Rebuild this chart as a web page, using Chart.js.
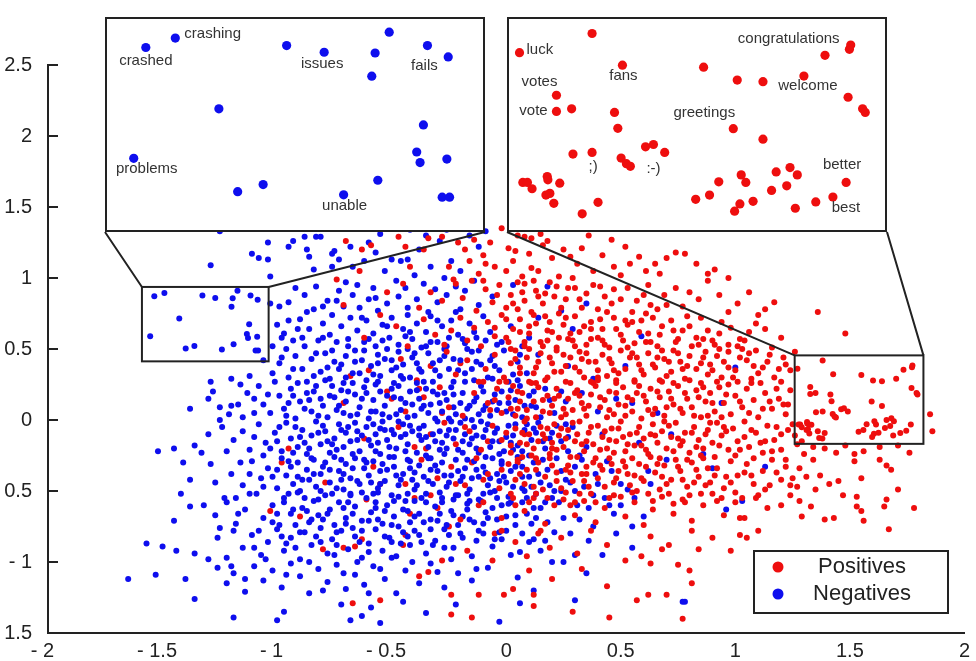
<!DOCTYPE html>
<html>
<head>
<meta charset="utf-8">
<script src="https://cdn.jsdelivr.net/npm/chart.js@4.4.1/dist/chart.umd.min.js"></script>
<style>
  body { margin: 0; background: #fff; }
  #wrap { position: relative; width: 976px; height: 661px; }
  #wrap canvas { position: absolute; }
  #main { left: 0; top: 0; }
  #insetNeg { left: 105px; top: 17px; background: #fff; }
  #insetPos { left: 507px; top: 17px; background: #fff; }
</style>
</head>
<body>
<div id="wrap">
  <canvas id="main" width="976" height="661"></canvas>
  <canvas id="insetNeg" width="380" height="215"></canvas>
  <canvas id="insetPos" width="380" height="215"></canvas>
</div>
<script>
// Sentiment word embedding scatter (positives vs negatives) with two zoom insets

// tick labels exactly as printed on the figure
const xTickLabels = ['- 2', '- 1.5', '- 1', '- 0.5', '0', '0.5', '1', '1.5', '2'];
const yTickLabels = ['1.5', '- 1', '0.5', '0', '0.5', '1', '1.5', '2', '2.5']; // bottom -> top

// zoomed regions (data units)
const zoomNeg = { xMin: -1.59, xMax: -1.037, yMin: 0.413, yMax: 0.937 };
const zoomPos = { xMin: 1.259, xMax: 1.821, yMin: -0.168, yMax: 0.455 };

// ---- Negatives (blue) ----
const negTop = [[-1.25,1.33],[-1.29,1.09],[-1.11,1.17],[-1.08,1.14],[-1.04,1.13],[-1.04,1.25],[-1.03,1.01],[-0.95,1.22],[-0.93,1.26],[-0.88,1.29],[-0.83,1.29],[-0.81,1.29],[-0.87,1.2],[-0.86,1.15],[-0.84,1.06],[-0.76,1.17],[-0.75,1.19],[-0.73,1.13],[-0.76,1.08],[-0.67,1.08],[-0.62,1.12],[-0.6,1.25],[-0.55,1.31],[-0.53,1.05],[-0.5,1.13],[-0.46,1.12],[-0.43,1.13],[-0.42,1.34],[-0.4,1.02],[-0.38,1.2],[-0.33,1.08],[-0.29,1.26],[-0.27,1.0],[-0.24,1.12],[-0.2,1.05],[-0.16,1.3],[-0.12,1.22],[-0.09,1.33],[-0.68,1.22],[-0.57,1.18],[-0.35,1.3],[-0.26,1.34]];
const negUpper = [[-1.03,0.82],[-0.99,0.8],[-0.95,0.83],[-0.92,0.93],[-0.88,0.88],[-0.84,0.78],[-0.83,0.94],[-0.78,0.84],[-0.73,0.91],[-0.71,0.8],[-0.7,0.97],[-0.67,0.88],[-0.65,0.95],[-0.64,0.79],[-0.6,0.85],[-0.58,0.93],[-0.56,0.77],[-0.52,0.82],[-0.48,0.98],[-0.47,0.87],[-0.44,0.93],[-0.43,0.79],[-0.39,0.85],[-0.36,0.96],[-0.34,0.76],[-0.31,0.92],[-0.3,0.83],[-0.26,0.88],[-0.22,0.94],[-0.2,0.78],[-0.18,0.91],[-0.14,0.98],[-0.12,0.81],[-0.06,0.87],[0.03,0.95]];
const negMidHigh = [[-1.0,0.67],[-0.97,0.61],[-0.93,0.56],[-0.9,0.71],[-0.86,0.64],[-0.82,0.56],[-0.8,0.68],[-0.77,0.6],[-0.76,0.74],[-0.72,0.66],[-0.69,0.57],[-0.68,0.72],[-0.65,0.63],[-0.62,0.55],[-0.61,0.7],[-0.58,0.61],[-0.57,0.52],[-0.54,0.67],[-0.51,0.58],[-0.5,0.72],[-0.47,0.53],[-0.45,0.64],[-0.43,0.74],[-0.41,0.57],[-0.39,0.68],[-0.37,0.51],[-0.35,0.62],[-0.33,0.73],[-0.3,0.55],[-0.28,0.66],[-0.26,0.52],[-0.24,0.7],[-0.21,0.6],[-0.18,0.54],[-0.16,0.68],[-0.13,0.58],[-0.1,0.73],[-0.07,0.62],[-0.04,0.53],[0.02,0.66],[0.1,0.58]];
const negMid = [[-1.29,0.27],[-1.2,0.29],[-1.12,0.31],[-1.06,0.42],[-1.02,0.33],[-0.99,0.4],[-0.96,0.5],[-0.95,0.3],[-0.92,0.45],[-0.89,0.36],[-0.87,0.27],[-0.85,0.43],[-0.81,0.34],[-0.79,0.47],[-0.77,0.29],[-0.75,0.41],[-0.73,0.36],[-0.71,0.26],[-0.7,0.45],[-0.67,0.33],[-0.66,0.49],[-0.63,0.42],[-0.61,0.28],[-0.59,0.38],[-0.56,0.46],[-0.55,0.31],[-0.53,0.43],[-0.5,0.35],[-0.49,0.26],[-0.47,0.48],[-0.45,0.39],[-0.42,0.3],[-0.41,0.44],[-0.38,0.36],[-0.36,0.27],[-0.34,0.47],[-0.32,0.4],[-0.29,0.31],[-0.27,0.45],[-0.25,0.36],[-0.23,0.27],[-0.2,0.42],[-0.18,0.33],[-0.15,0.48],[-0.14,0.28],[-0.11,0.39],[-0.08,0.3],[-0.06,0.45],[-0.03,0.35],[0.01,0.27],[0.05,0.41],[0.09,0.33],[0.14,0.46],[0.27,0.38],[0.38,0.29]];
const negCenter = [[-1.38,0.08],[-1.3,0.15],[-1.25,0.09],[-1.21,0.04],[-1.17,0.11],[-1.15,0.02],[-1.25,0.0],[-1.13,0.19],[-1.08,0.24],[-1.06,0.11],[-1.03,0.05],[-0.99,0.17],[-0.97,0.08],[-0.94,0.22],[-0.92,0.01],[-0.9,0.13],[-0.87,0.19],[-0.85,0.06],[-0.83,0.24],[-0.8,0.1],[-0.78,0.02],[-0.77,0.17],[-0.74,0.07],[-0.72,0.21],[-0.7,0.13],[-0.68,0.03],[-0.66,0.18],[-0.64,0.09],[-0.62,0.23],[-0.6,0.01],[-0.58,0.14],[-0.57,0.06],[-0.55,0.2],[-0.53,0.1],[-0.51,0.02],[-0.49,0.16],[-0.47,0.24],[-0.46,0.07],[-0.44,0.12],[-0.42,0.2],[-0.4,0.03],[-0.38,0.15],[-0.37,0.08],[-0.35,0.22],[-0.33,0.11],[-0.31,0.01],[-0.3,0.18],[-0.28,0.06],[-0.26,0.14],[-0.24,0.23],[-0.22,0.04],[-0.2,0.12],[-0.19,0.19],[-0.17,0.08],[-0.15,0.0],[-0.13,0.16],[-0.11,0.24],[-0.09,0.1],[-0.07,0.03],[-0.05,0.18],[-0.03,0.12],[0.0,0.06],[0.02,0.21],[0.04,0.14],[0.07,0.02],[0.1,0.17],[0.13,0.09],[0.17,0.22],[0.21,0.05],[0.26,0.13],[0.33,0.19],[0.4,0.06],[0.55,0.12]];
const negMidLow = [[-1.52,-0.22],[-1.45,-0.2],[-1.36,-0.18],[-1.33,-0.23],[-1.24,-0.05],[-1.19,-0.14],[-1.12,-0.21],[-1.08,-0.03],[-1.05,-0.16],[-1.01,-0.09],[-0.98,-0.22],[-0.96,-0.02],[-0.94,-0.13],[-0.91,-0.19],[-0.89,-0.07],[-0.87,-0.24],[-0.85,-0.11],[-0.83,-0.01],[-0.81,-0.17],[-0.79,-0.08],[-0.77,-0.23],[-0.75,-0.13],[-0.73,-0.03],[-0.71,-0.19],[-0.7,-0.09],[-0.68,-0.15],[-0.66,-0.02],[-0.64,-0.22],[-0.63,-0.11],[-0.61,-0.05],[-0.59,-0.18],[-0.57,-0.1],[-0.55,-0.24],[-0.54,-0.01],[-0.52,-0.14],[-0.5,-0.07],[-0.48,-0.2],[-0.46,-0.12],[-0.45,-0.03],[-0.43,-0.17],[-0.41,-0.08],[-0.39,-0.23],[-0.37,-0.14],[-0.36,-0.04],[-0.34,-0.19],[-0.32,-0.1],[-0.3,-0.01],[-0.28,-0.16],[-0.27,-0.24],[-0.25,-0.07],[-0.23,-0.13],[-0.21,-0.21],[-0.2,-0.02],[-0.18,-0.1],[-0.16,-0.17],[-0.14,-0.05],[-0.12,-0.23],[-0.1,-0.12],[-0.08,-0.03],[-0.07,-0.19],[-0.05,-0.09],[-0.03,-0.15],[-0.01,-0.22],[0.01,-0.04],[0.03,-0.11],[0.05,-0.18],[0.08,-0.07],[0.11,-0.14],[0.14,-0.02],[0.17,-0.2],[0.2,-0.09],[0.24,-0.15],[0.29,-0.05],[0.35,-0.19],[0.42,-0.1],[0.58,-0.16]];
const negLow = [[-1.38,-0.42],[-1.29,-0.31],[-1.23,-0.55],[-1.2,-0.38],[-1.15,-0.46],[-1.11,-0.29],[-1.07,-0.41],[-1.04,-0.34],[-1.0,-0.48],[-0.98,-0.27],[-0.96,-0.39],[-0.93,-0.45],[-0.91,-0.3],[-0.89,-0.42],[-0.87,-0.35],[-0.85,-0.27],[-0.83,-0.47],[-0.81,-0.38],[-0.79,-0.3],[-0.77,-0.44],[-0.75,-0.26],[-0.73,-0.36],[-0.71,-0.49],[-0.7,-0.31],[-0.68,-0.41],[-0.66,-0.27],[-0.64,-0.45],[-0.62,-0.34],[-0.6,-0.39],[-0.58,-0.29],[-0.56,-0.48],[-0.55,-0.36],[-0.53,-0.43],[-0.51,-0.26],[-0.49,-0.33],[-0.47,-0.46],[-0.45,-0.38],[-0.43,-0.28],[-0.41,-0.42],[-0.4,-0.49],[-0.38,-0.32],[-0.36,-0.4],[-0.34,-0.27],[-0.32,-0.45],[-0.3,-0.36],[-0.28,-0.3],[-0.26,-0.47],[-0.24,-0.39],[-0.22,-0.28],[-0.2,-0.43],[-0.18,-0.34],[-0.16,-0.49],[-0.14,-0.29],[-0.12,-0.4],[-0.1,-0.33],[-0.08,-0.46],[-0.06,-0.27],[-0.04,-0.38],[-0.02,-0.31],[0.0,-0.44],[0.02,-0.36],[0.05,-0.26],[0.07,-0.48],[0.1,-0.4],[0.12,-0.3],[0.15,-0.44],[0.18,-0.35],[0.22,-0.27],[0.26,-0.42],[0.3,-0.33],[0.34,-0.47],[0.39,-0.38],[0.44,-0.29],[0.5,-0.45],[0.62,-0.36]];
const negLower = [[-1.45,-0.71],[-1.38,-0.61],[-1.27,-0.67],[-1.22,-0.58],[-1.18,-0.73],[-1.14,-0.63],[-1.09,-0.52],[-1.06,-0.69],[-1.02,-0.6],[-0.99,-0.74],[-0.97,-0.55],[-0.94,-0.66],[-0.91,-0.51],[-0.89,-0.62],[-0.86,-0.72],[-0.84,-0.57],[-0.82,-0.67],[-0.79,-0.53],[-0.77,-0.63],[-0.75,-0.74],[-0.73,-0.58],[-0.7,-0.69],[-0.68,-0.52],[-0.66,-0.61],[-0.63,-0.71],[-0.61,-0.55],[-0.59,-0.65],[-0.56,-0.51],[-0.54,-0.73],[-0.52,-0.6],[-0.49,-0.68],[-0.47,-0.54],[-0.45,-0.63],[-0.42,-0.72],[-0.4,-0.57],[-0.38,-0.66],[-0.35,-0.52],[-0.33,-0.7],[-0.31,-0.61],[-0.28,-0.55],[-0.26,-0.74],[-0.24,-0.64],[-0.21,-0.53],[-0.19,-0.68],[-0.17,-0.59],[-0.14,-0.72],[-0.12,-0.56],[-0.09,-0.65],[-0.07,-0.51],[-0.04,-0.7],[-0.02,-0.6],[0.01,-0.54],[0.04,-0.67],[0.07,-0.58],[0.11,-0.73],[0.15,-0.62],[0.2,-0.55],[0.25,-0.69],[0.31,-0.6],[0.38,-0.53],[0.47,-0.66]];
const negBottom = [[-1.57,-0.87],[-1.5,-0.89],[-1.36,-0.94],[-1.26,-0.83],[-1.22,-0.97],[-1.19,-0.78],[-1.15,-0.9],[-1.11,-0.81],[-1.07,-0.95],[-1.04,-0.86],[-1.0,-0.77],[-0.97,-0.92],[-0.94,-0.83],[-0.9,-0.98],[-0.88,-0.79],[-0.85,-0.88],[-0.81,-0.76],[-0.78,-0.94],[-0.76,-0.84],[-0.72,-0.78],[-0.69,-0.91],[-0.66,-0.82],[-0.63,-0.97],[-0.6,-0.87],[-0.57,-0.77],[-0.54,-0.92],[-0.51,-0.83],[-0.48,-0.96],[-0.45,-0.79],[-0.42,-0.88],[-0.38,-0.81],[-0.35,-0.94],[-0.31,-0.85],[-0.27,-0.77],[-0.23,-0.9],[-0.19,-0.83],[-0.15,-0.96],[-0.1,-0.8],[-0.06,-0.89],[0.0,-0.78],[0.06,-0.93],[0.12,-0.84],[0.21,-0.79],[0.3,-0.95]];
const negBase = [[-1.65,-1.12],[-1.53,-1.09],[-1.36,-1.26],[-1.26,-1.04],[-1.22,-1.15],[-1.19,-1.08],[-1.14,-1.21],[-1.1,-1.03],[-1.06,-1.13],[-1.02,-1.06],[-0.98,-1.18],[-0.94,-1.01],[-0.9,-1.1],[-0.86,-1.22],[-0.82,-1.05],[-0.78,-1.14],[-0.74,-1.02],[-0.7,-1.19],[-0.66,-1.09],[-0.62,-1.16],[-0.58,-1.03],[-0.53,-1.12],[-0.48,-1.22],[-0.44,-1.06],[-0.38,-1.15],[-0.33,-1.01],[-0.27,-1.18],[-0.21,-1.08],[-0.15,-1.13],[-0.08,-1.04],[0.05,-1.11],[0.12,-1.2],[-1.19,-1.39],[-1.0,-1.41],[-0.97,-1.35],[-0.72,-1.3],[-0.68,-1.41],[-0.63,-1.38],[-0.59,-1.32],[-0.55,-1.43],[-0.45,-1.28],[-0.35,-1.36],[-0.22,-1.3],[-0.03,-1.42],[0.06,-1.29],[0.3,-1.27],[0.78,-1.28]];
const negMixed = [[0.03,-0.21],[0.07,-0.33],[0.1,-0.25],[0.13,-0.52],[0.16,-0.15],[0.19,-0.46],[0.23,-0.58],[0.27,-0.22],[0.3,-0.5],[0.33,-0.28],[0.36,-0.62],[0.4,-0.45],[0.43,-0.55],[0.46,-0.36],[0.5,-0.6],[0.53,-0.49],[0.56,-0.55],[0.6,-0.68],[0.38,-0.75],[0.28,-0.8],[0.18,-0.72],[0.1,-0.86],[0.02,-0.95],[0.08,-0.5],[0.12,-0.62],[0.24,-0.36],[0.02,-0.58],[-0.02,-0.84],[0.15,-0.92],[0.32,-0.7],[0.48,-0.8],[0.42,-0.95],[0.35,-1.08],[0.55,-0.9],[0.2,-1.0]];
// further passes over the dense blue core and its left flank
const negDense = [[-0.88,0.52],[-0.84,0.31],[-0.8,0.58],[-0.76,0.49],[-0.72,0.39],[-0.69,0.52],[-0.64,0.33],[-0.6,0.57],[-0.56,0.4],[-0.52,0.5],[-0.48,0.37],[-0.44,0.59],[-0.4,0.47],[-0.37,0.34],[-0.33,0.55],[-0.29,0.42],[-0.25,0.58],[-0.21,0.35],[-0.17,0.5],[-0.13,0.41],[-0.09,0.56],[-0.05,0.38],[-0.01,0.49],[0.03,0.32],[0.07,0.52],
  [-1.1,0.15],[-1.01,0.27],[-0.95,0.12],[-0.91,0.26],[-0.86,0.14],[-0.82,0.03],[-0.79,0.28],[-0.75,0.16],[-0.71,0.05],[-0.67,0.26],[-0.63,0.15],[-0.59,0.06],[-0.56,0.27],[-0.52,0.17],[-0.48,0.04],[-0.45,0.29],[-0.41,0.11],[-0.39,0.26],[-0.34,0.05],[-0.32,0.27],[-0.29,0.12],[-0.25,0.01],[-0.23,0.18],[-0.18,0.27],[-0.16,0.1],[-0.12,0.04],[-0.1,0.2],[-0.06,0.29],[-0.04,0.07],[0.01,0.12],[0.05,0.28],[0.08,0.1],[0.12,0.2],[0.19,0.14],
  [-1.15,-0.08],[-1.06,-0.25],[-1.0,-0.15],[-0.95,-0.29],[-0.92,-0.05],[-0.88,-0.16],[-0.84,-0.28],[-0.8,-0.04],[-0.76,-0.17],[-0.72,-0.28],[-0.69,-0.05],[-0.65,-0.14],[-0.62,-0.28],[-0.58,-0.03],[-0.56,-0.16],[-0.53,-0.07],[-0.49,-0.26],[-0.47,-0.01],[-0.44,-0.1],[-0.42,-0.29],[-0.38,-0.06],[-0.35,-0.12],[-0.33,-0.27],[-0.29,-0.08],[-0.26,-0.2],[-0.24,-0.01],[-0.19,-0.15],[-0.17,-0.28],[-0.13,-0.11],[-0.11,-0.01],[-0.09,-0.26],[-0.04,-0.06],[-0.02,-0.29],[0.02,-0.16],[0.06,-0.27],[0.09,-0.03],[0.13,-0.09],[0.16,-0.28],[0.22,-0.04],[0.27,-0.12],[0.32,-0.25],
  [-1.12,-0.52],[-1.02,-0.4],[-0.97,-0.58],[-0.94,-0.33],[-0.9,-0.5],[-0.86,-0.42],[-0.82,-0.56],[-0.8,-0.33],[-0.76,-0.52],[-0.72,-0.42],[-0.69,-0.58],[-0.67,-0.34],[-0.63,-0.51],[-0.59,-0.44],[-0.57,-0.58],[-0.54,-0.31],[-0.5,-0.53],[-0.48,-0.39],[-0.44,-0.57],[-0.42,-0.34],[-0.39,-0.46],[-0.35,-0.58],[-0.33,-0.35],[-0.29,-0.51],[-0.27,-0.39],[-0.23,-0.56],[-0.21,-0.36],[-0.17,-0.52],[-0.15,-0.41],[-0.11,-0.57],[-0.09,-0.37],[-0.05,-0.5],[-0.03,-0.43],[0.01,-0.59],[0.04,-0.33],[0.09,-0.55],[0.14,-0.38],[0.21,-0.5],[0.28,-0.44],
  [-1.08,-0.78],[-1.0,-0.66],[-0.96,-0.87],[-0.92,-0.74],[-0.87,-0.64],[-0.83,-0.82],[-0.8,-0.7],[-0.74,-0.88],[-0.71,-0.62],[-0.67,-0.76],[-0.64,-0.86],[-0.6,-0.71],[-0.57,-0.62],[-0.53,-0.82],[-0.5,-0.74],[-0.46,-0.87],[-0.43,-0.64],[-0.4,-0.78],[-0.36,-0.72],[-0.32,-0.88],[-0.29,-0.66],[-0.25,-0.81],[-0.21,-0.74],[-0.17,-0.63],[-0.13,-0.85],[-0.1,-0.73],[-0.06,-0.62],[-0.03,-0.79],[0.04,-0.74],[0.09,-0.66],[0.17,-0.85]];
const negDense2 = [[-0.98,0.44],[-0.93,0.36],[-0.89,0.58],[-0.83,0.47],[-0.78,0.37],[-0.74,0.55],[-0.7,0.3],[-0.66,0.41],[-0.62,0.49],[-0.58,0.32],[-0.54,0.56],[-0.5,0.42],[-0.46,0.31],[-0.43,0.5],[-0.39,0.4],[-0.35,0.52],[-0.31,0.35],[-0.27,0.5],[-0.23,0.43],[-0.19,0.57],[-0.15,0.36],[-0.12,0.49],[-0.07,0.42],[-0.02,0.55],[0.06,0.46],
  [-1.04,0.18],[-0.96,0.03],[-0.93,0.17],[-0.88,0.08],[-0.84,0.2],[-0.81,0.15],[-0.76,0.24],[-0.73,0.1],[-0.69,0.2],[-0.65,0.04],[-0.61,0.19],[-0.57,0.25],[-0.54,0.04],[-0.5,0.22],[-0.46,0.15],[-0.43,0.02],[-0.39,0.21],[-0.36,0.1],[-0.32,0.2],[-0.27,0.19],[-0.23,0.09],[-0.18,0.01],[-0.14,0.13],[-0.1,0.07],[-0.06,0.13],[-0.02,0.2],[0.03,0.04],[0.06,0.24],[0.11,0.1],[0.15,0.02],[0.24,0.2],
  [-1.1,-0.12],[-1.03,-0.2],[-0.99,-0.05],[-0.93,-0.23],[-0.9,-0.12],[-0.86,-0.2],[-0.82,-0.09],[-0.78,-0.15],[-0.74,-0.21],[-0.72,-0.07],[-0.67,-0.24],[-0.65,-0.08],[-0.6,-0.14],[-0.57,-0.22],[-0.55,-0.06],[-0.51,-0.19],[-0.49,-0.1],[-0.44,-0.22],[-0.42,-0.04],[-0.38,-0.11],[-0.35,-0.25],[-0.31,-0.15],[-0.29,-0.21],[-0.26,-0.11],[-0.22,-0.07],[-0.19,-0.23],[-0.15,-0.13],[-0.13,-0.2],[-0.09,-0.07],[-0.06,-0.15],[-0.03,-0.24],[0.0,-0.12],[0.04,-0.03],[0.07,-0.22],[0.12,-0.06],[0.19,-0.13],[0.26,-0.03],
  [-1.06,-0.47],[-1.0,-0.35],[-0.95,-0.52],[-0.91,-0.4],[-0.88,-0.55],[-0.84,-0.38],[-0.81,-0.5],[-0.77,-0.35],[-0.74,-0.48],[-0.71,-0.38],[-0.68,-0.53],[-0.65,-0.43],[-0.61,-0.3],[-0.58,-0.52],[-0.55,-0.45],[-0.52,-0.35],[-0.49,-0.57],[-0.46,-0.42],[-0.43,-0.52],[-0.4,-0.37],[-0.37,-0.55],[-0.34,-0.43],[-0.31,-0.32],[-0.28,-0.58],[-0.25,-0.44],[-0.22,-0.53],[-0.19,-0.4],[-0.16,-0.57],[-0.13,-0.35],[-0.1,-0.52],[-0.07,-0.41],[-0.04,-0.55],[-0.01,-0.4],[0.03,-0.47],[0.07,-0.4],[0.11,-0.47],[0.17,-0.58],[0.24,-0.5],
  [-1.02,-0.72],[-0.98,-0.82],[-0.93,-0.63],[-0.9,-0.79],[-0.85,-0.7],[-0.81,-0.86],[-0.78,-0.66],[-0.74,-0.79],[-0.7,-0.73],[-0.67,-0.66],[-0.63,-0.78],[-0.6,-0.93],[-0.56,-0.7],[-0.53,-0.64],[-0.5,-0.86],[-0.47,-0.75],[-0.43,-0.82],[-0.4,-0.68],[-0.37,-0.86],[-0.33,-0.77],[-0.3,-0.71],[-0.27,-0.9],[-0.23,-0.67],[-0.2,-0.8],[-0.16,-0.7],[-0.12,-0.78],[-0.08,-0.69],[-0.05,-0.84],[0.0,-0.68],[0.07,-0.8],[0.13,-0.69]];
const negLeft2 = [[-1.28,0.2],[-1.2,0.1],[-1.16,0.25],[-1.1,0.05],[-1.3,-0.1],[-1.22,-0.22],[-1.16,-0.3],[-1.27,-0.44],[-1.18,-0.55],[-1.12,-0.38],[-1.32,-0.6],[-1.25,-0.76],[-1.17,-0.66],[-1.1,-0.9],[-1.3,-0.98],[-1.2,-1.03],[-1.14,-1.12],[-1.05,-0.98],[-0.96,-1.09],[-0.92,-0.9],[-0.86,-1.0],[-0.8,-1.2],[-0.75,-0.95],[-0.71,-1.08],[-0.65,-1.0],[-0.6,-1.22],[-0.55,-1.05],[-0.5,-0.97],[-0.41,-1.0],[-0.3,-1.07],[-0.24,-0.98],[-0.13,-1.05],[-1.41,-0.3],[-1.42,-0.52],[-1.44,-0.92],[-1.4,-1.12],[-1.02,0.52],[-0.98,0.58],[-0.91,0.64],[-0.95,0.7],[-0.87,0.76],[-0.8,0.8],[-0.74,0.84],[-0.63,0.72],[-0.57,0.86],[-0.52,0.66],[-0.42,0.62],[-0.3,0.7],[-0.22,0.76],[-0.14,0.62]];
const negStray = [[0.18,0.94],[0.35,0.82],[0.24,0.77],[0.29,0.64],[0.14,0.72],[0.59,0.59],[1.0,0.37],[0.94,0.12],[0.52,0.38],[0.86,-0.24],[0.9,-0.34],[1.13,-0.33],[1.03,-0.57],[0.96,-0.63],[0.77,-1.28],[0.66,0.05],[0.72,-0.1],[0.48,0.15],[0.63,-0.45],[0.7,-0.28],[0.45,-0.6],[0.55,-0.75],[0.36,-0.85],[0.25,-1.0]];
// points inside the left zoom box (shown enlarged in the left inset)
const insetNeg = [[-1.536,0.871],[-1.492,0.895],[-1.326,0.876],[-1.27,0.859],[-1.194,0.857],[-1.173,0.91],[-1.199,0.798],[-1.116,0.876],[-1.085,0.847],[-1.427,0.715],[-1.122,0.674],[-1.132,0.605],[-1.127,0.578],[-1.087,0.587],[-1.554,0.589],[-1.399,0.504],[-1.361,0.522],[-1.241,0.496],[-1.19,0.533],[-1.094,0.49],[-1.083,0.49]];
const insetNegWords = { 0: 'crashed', 1: 'crashing', 3: 'issues', 7: 'fails', 14: 'problems', 17: 'unable' };

// ---- Positives (red) ----
const posTop = [[-0.7,1.26],[-0.63,1.2],[-0.59,1.23],[-0.47,1.29],[-0.44,1.22],[-0.42,1.08],[-0.36,1.2],[-0.34,1.28],[-0.28,1.29],[-0.25,1.08],[-0.21,1.25],[-0.18,1.2],[-0.14,1.27],[-0.1,1.16],[-0.09,1.1],[-0.05,1.08],[-0.64,1.05],[-0.02,1.35],[0.01,1.21],[0.04,1.19],[0.03,1.12],[0.08,1.29],[0.11,1.28],[0.11,1.07],[0.07,1.01],[0.2,1.14],[0.23,1.01],[0.28,1.15],[0.29,1.0],[0.33,1.21],[0.46,1.27],[0.54,1.1],[0.58,1.15],[0.65,1.1],[0.67,1.03],[0.74,1.18],[0.78,1.17],[0.88,1.03],[0.91,1.06],[0.16,1.23],[0.38,1.05],[0.5,1.02],[-0.12,1.03],[0.15,1.31]];
const posUpper = [[-0.74,0.99],[-0.71,0.81],[-0.55,0.74],[-0.52,0.9],[-0.45,0.96],[-0.38,0.79],[-0.33,0.9],[-0.28,0.84],[-0.23,0.99],[-0.22,0.96],[-0.19,0.86],[-0.15,0.98],[-0.13,0.77],[-0.09,0.92],[-0.06,0.83],[-0.03,0.95],[0.0,0.79],[0.02,0.88],[0.05,0.97],[0.08,0.84],[0.08,0.96],[0.11,0.76],[0.13,0.91],[0.16,0.82],[0.19,0.97],[0.21,0.87],[0.24,0.79],[0.27,0.93],[0.3,0.93],[0.32,0.85],[0.38,0.95],[0.4,0.78],[0.43,0.87],[0.47,0.92],[0.5,0.85],[0.55,0.76],[0.6,0.88],[0.63,0.81],[0.66,0.78],[0.7,0.81],[0.8,0.9],[0.88,0.98],[0.97,0.76],[1.06,0.9],[1.13,0.78],[1.17,0.83],[1.36,0.76]];
const posUpper2 = [[-0.16,1.12],[-0.07,1.25],[0.0,1.05],[0.05,1.3],[0.1,1.17],[0.14,1.05],[0.18,1.26],[0.25,1.2],[0.31,1.1],[0.36,1.3],[0.42,1.16],[0.47,1.08],[0.52,1.22],[0.61,1.05],[0.7,1.14],[0.83,1.1],[0.97,1.0],[-0.1,0.98],[-0.04,0.88],[0.03,0.82],[0.07,0.9],[0.12,0.98],[0.17,0.89],[0.22,0.94],[0.26,0.85],[0.35,0.89],[0.41,0.94],[0.46,0.82],[0.53,0.93],[0.57,0.84],[0.62,0.95],[0.69,0.88],[0.74,0.93],[0.77,0.8],[0.84,0.85],[0.93,0.88],[1.01,0.82],[1.1,0.74],[0.06,0.62],[0.12,0.74],[0.18,0.63],[0.26,0.72],[0.34,0.66],[0.41,0.71],[0.48,0.64],[0.55,0.69],[0.61,0.75],[0.67,0.6],[0.73,0.63],[0.79,0.73],[0.88,0.63],[0.93,0.61],[0.98,0.65],[1.06,0.62],[1.13,0.64],[1.2,0.58]];
const posMidHigh = [[-0.62,0.58],[-0.48,0.66],[-0.43,0.52],[-0.36,0.71],[-0.31,0.6],[-0.27,0.53],[-0.24,0.63],[-0.2,0.72],[-0.17,0.56],[-0.14,0.65],[-0.11,0.52],[-0.08,0.69],[-0.05,0.59],[-0.02,0.74],[0.01,0.55],[0.03,0.64],[0.06,0.71],[0.08,0.52],[0.1,0.61],[0.13,0.68],[0.15,0.55],[0.17,0.73],[0.2,0.62],[0.22,0.51],[0.25,0.67],[0.27,0.57],[0.3,0.73],[0.32,0.62],[0.35,0.53],[0.37,0.69],[0.4,0.58],[0.42,0.64],[0.45,0.51],[0.47,0.72],[0.5,0.6],[0.53,0.67],[0.56,0.54],[0.59,0.7],[0.62,0.61],[0.66,0.52],[0.68,0.66],[0.72,0.7],[0.75,0.57],[0.8,0.66],[0.84,0.53],[0.86,0.57],[0.9,0.56],[0.94,0.69],[0.97,0.53],[1.02,0.57],[1.04,0.56],[1.09,0.68],[1.48,0.61]];
const posMid = [[-0.26,0.48],[-0.22,0.32],[-0.17,0.42],[-0.12,0.27],[-0.09,0.36],[-0.05,0.46],[-0.01,0.3],[0.02,0.4],[0.04,0.49],[0.06,0.33],[0.09,0.44],[0.11,0.26],[0.13,0.37],[0.15,0.47],[0.18,0.3],[0.2,0.4],[0.22,0.49],[0.24,0.34],[0.26,0.27],[0.28,0.44],[0.3,0.37],[0.32,0.48],[0.34,0.3],[0.36,0.41],[0.38,0.26],[0.4,0.35],[0.42,0.46],[0.44,0.31],[0.46,0.4],[0.48,0.28],[0.5,0.49],[0.52,0.36],[0.54,0.44],[0.56,0.27],[0.58,0.39],[0.6,0.32],[0.62,0.47],[0.65,0.37],[0.67,0.28],[0.69,0.43],[0.72,0.34],[0.73,0.49],[0.76,0.41],[0.78,0.29],[0.8,0.45],[0.83,0.36],[0.85,0.26],[0.87,0.48],[0.89,0.39],[0.92,0.45],[0.94,0.3],[0.97,0.48],[1.0,0.35],[1.02,0.44],[1.05,0.42],[1.07,0.29],[1.09,0.49],[1.12,0.37],[1.14,0.41],[1.17,0.3],[1.21,0.44],[1.24,0.35],[1.26,0.48]];
const posCenter = [[-0.29,0.23],[-0.25,0.09],[-0.19,0.03],[-0.14,0.19],[-0.08,0.12],[-0.04,0.22],[-0.02,0.05],[0.01,0.16],[0.03,0.24],[0.05,0.08],[0.07,0.19],[0.09,0.01],[0.12,0.13],[0.14,0.23],[0.16,0.06],[0.18,0.17],[0.2,0.1],[0.22,0.22],[0.24,0.02],[0.27,0.15],[0.29,0.07],[0.31,0.21],[0.33,0.12],[0.35,0.03],[0.37,0.18],[0.39,0.24],[0.41,0.09],[0.43,0.14],[0.45,0.2],[0.47,0.04],[0.49,0.11],[0.51,0.23],[0.53,0.16],[0.55,0.06],[0.57,0.19],[0.59,0.01],[0.61,0.13],[0.63,0.22],[0.65,0.08],[0.67,0.16],[0.69,0.03],[0.71,0.2],[0.73,0.11],[0.75,0.24],[0.77,0.05],[0.79,0.15],[0.81,0.09],[0.83,0.21],[0.85,0.02],[0.87,0.13],[0.89,0.19],[0.91,0.06],[0.93,0.23],[0.95,0.12],[0.98,0.04],[1.0,0.17],[1.03,0.09],[1.05,0.22],[1.08,0.14],[1.1,0.02],[1.13,0.19],[1.16,0.08],[1.19,0.15],[1.22,0.04],[1.24,0.21],[1.85,0.04]];
const posMidLow = [[-0.27,-0.02],[-0.22,-0.17],[-0.16,-0.08],[-0.11,-0.21],[-0.06,-0.04],[-0.02,-0.14],[0.02,-0.23],[0.04,-0.06],[0.06,-0.16],[0.08,-0.01],[0.1,-0.1],[0.12,-0.2],[0.15,-0.05],[0.17,-0.13],[0.19,-0.24],[0.21,-0.03],[0.23,-0.11],[0.25,-0.19],[0.27,-0.07],[0.3,-0.15],[0.32,-0.01],[0.34,-0.22],[0.36,-0.09],[0.38,-0.17],[0.4,-0.04],[0.42,-0.12],[0.44,-0.2],[0.46,-0.06],[0.48,-0.15],[0.5,-0.01],[0.52,-0.22],[0.54,-0.1],[0.56,-0.18],[0.58,-0.05],[0.6,-0.13],[0.62,-0.24],[0.64,-0.03],[0.66,-0.16],[0.68,-0.08],[0.7,-0.2],[0.72,-0.12],[0.74,-0.02],[0.76,-0.18],[0.78,-0.09],[0.8,-0.23],[0.82,-0.05],[0.84,-0.14],[0.86,-0.2],[0.88,-0.07],[0.9,-0.16],[0.92,-0.02],[0.94,-0.11],[0.97,-0.21],[0.99,-0.06],[1.01,-0.15],[1.04,-0.01],[1.06,-0.19],[1.09,-0.09],[1.12,-0.23],[1.14,-0.04],[1.17,-0.14],[1.2,-0.21],[1.23,-0.07],[1.27,-0.17],[1.3,-0.24],[1.34,-0.19],[1.39,-0.2],[1.44,-0.23],[1.52,-0.24],[1.56,-0.22],[1.63,-0.19],[1.71,-0.18],[1.76,-0.23],[1.86,-0.08]];
const posLow = [[-0.3,-0.41],[-0.24,-0.33],[-0.18,-0.46],[-0.13,-0.27],[-0.08,-0.38],[-0.03,-0.48],[0.01,-0.31],[0.04,-0.42],[0.07,-0.26],[0.09,-0.35],[0.12,-0.47],[0.14,-0.3],[0.17,-0.4],[0.19,-0.27],[0.22,-0.37],[0.24,-0.48],[0.27,-0.32],[0.29,-0.43],[0.31,-0.26],[0.33,-0.38],[0.36,-0.47],[0.38,-0.3],[0.4,-0.41],[0.42,-0.35],[0.45,-0.27],[0.47,-0.44],[0.49,-0.36],[0.51,-0.29],[0.54,-0.46],[0.56,-0.39],[0.58,-0.31],[0.6,-0.43],[0.63,-0.26],[0.65,-0.37],[0.67,-0.49],[0.69,-0.32],[0.72,-0.42],[0.74,-0.28],[0.76,-0.36],[0.79,-0.47],[0.81,-0.3],[0.84,-0.4],[0.86,-0.27],[0.89,-0.44],[0.92,-0.34],[0.95,-0.48],[0.98,-0.29],[1.01,-0.39],[1.05,-0.31],[1.08,-0.45],[1.12,-0.36],[1.16,-0.28],[1.2,-0.42],[1.24,-0.46],[1.28,-0.34],[1.34,-0.28],[1.37,-0.39],[1.41,-0.45],[1.45,-0.43],[1.52,-0.29],[1.55,-0.41],[1.63,-0.28],[1.66,-0.32],[1.68,-0.35],[1.71,-0.49]];
const posLower = [[-0.2,-0.7],[-0.1,-0.58],[-0.02,-0.69],[0.03,-0.55],[0.08,-0.64],[0.13,-0.52],[0.17,-0.73],[0.21,-0.6],[0.26,-0.51],[0.3,-0.67],[0.34,-0.57],[0.39,-0.72],[0.43,-0.62],[0.47,-0.53],[0.52,-0.68],[0.56,-0.58],[0.6,-0.74],[0.64,-0.63],[0.68,-0.54],[0.73,-0.66],[0.77,-0.56],[0.81,-0.71],[0.86,-0.6],[0.9,-0.52],[0.95,-0.67],[1.0,-0.58],[1.04,-0.69],[1.09,-0.55],[1.14,-0.62],[1.2,-0.6],[1.24,-0.53],[1.28,-0.57],[1.29,-0.68],[1.33,-0.61],[1.35,-0.49],[1.39,-0.7],[1.43,-0.69],[1.47,-0.53],[1.53,-0.54],[1.53,-0.61],[1.55,-0.64],[1.56,-0.71],[1.66,-0.56],[1.65,-0.61],[1.78,-0.62],[1.02,-0.69]];
const posBottom = [[-0.28,-0.99],[-0.17,-0.92],[-0.06,-0.99],[-0.02,-0.78],[0.04,-0.86],[0.09,-0.96],[0.14,-0.8],[0.19,-0.9],[0.24,-0.83],[0.31,-0.94],[0.37,-0.78],[0.44,-0.88],[0.52,-0.99],[0.59,-0.96],[0.63,-0.82],[0.68,-0.91],[0.71,-0.88],[0.81,-0.78],[0.84,-0.91],[0.9,-0.83],[0.98,-0.92],[1.02,-0.81],[1.05,-0.83],[1.1,-0.78],[1.67,-0.77]];
const posBase = [[-0.24,-1.23],[-0.12,-1.23],[-0.01,-1.23],[0.03,-1.19],[0.1,-1.06],[0.12,-1.23],[0.2,-1.12],[0.33,-1.05],[0.44,-1.17],[0.57,-1.27],[0.62,-1.23],[0.63,-1.01],[0.7,-1.23],[0.75,-1.02],[0.8,-1.06],[0.81,-1.15],[-0.24,-1.37],[-0.15,-1.39],[0.29,-1.35],[0.45,-1.39],[0.77,-1.4],[0.12,-1.31]];
// further passes over the dense red core
const posDense = [[0.0,0.58],[0.04,0.43],[0.08,0.55],[0.12,0.33],[0.16,0.52],[0.19,0.44],[0.23,0.58],[0.26,0.38],[0.3,0.52],[0.33,0.43],[0.37,0.57],[0.4,0.3],[0.43,0.53],[0.47,0.35],[0.51,0.56],[0.55,0.47],[0.59,0.35],[0.63,0.55],[0.66,0.44],[0.7,0.31],[0.74,0.55],[0.77,0.36],[0.81,0.52],[0.85,0.4],[0.88,0.32],[0.91,0.53],[0.95,0.41],[0.99,0.3],[1.03,0.5],[1.08,0.38],[1.15,0.46],[1.19,0.36],
  [-0.1,0.27],[-0.05,0.14],[0.0,0.27],[0.04,0.03],[0.06,0.13],[0.1,0.27],[0.13,0.02],[0.17,0.28],[0.21,0.15],[0.25,0.08],[0.28,0.26],[0.32,0.17],[0.36,0.1],[0.4,0.28],[0.44,0.02],[0.48,0.26],[0.52,0.1],[0.56,0.28],[0.6,0.17],[0.64,0.04],[0.68,0.27],[0.72,0.15],[0.76,0.08],[0.8,0.28],[0.84,0.16],[0.88,0.03],[0.92,0.27],[0.96,0.18],[1.01,0.27],[1.06,0.05],[1.11,0.26],[1.15,0.13],[1.2,0.27],[1.23,0.11],
  [0.0,-0.09],[0.05,-0.28],[0.09,-0.17],[0.13,-0.27],[0.16,-0.1],[0.2,-0.16],[0.24,-0.06],[0.28,-0.26],[0.31,-0.1],[0.35,-0.15],[0.39,-0.27],[0.43,-0.08],[0.47,-0.23],[0.51,-0.12],[0.55,-0.27],[0.59,-0.18],[0.63,-0.1],[0.67,-0.27],[0.71,-0.04],[0.75,-0.13],[0.79,-0.28],[0.83,-0.19],[0.87,-0.1],[0.91,-0.26],[0.95,-0.05],[1.0,-0.25],[1.04,-0.12],[1.08,-0.27],[1.13,-0.15],[1.18,-0.05],[1.22,-0.28],[1.26,-0.11],[1.32,-0.03],[1.38,-0.13],[1.48,-0.18],
  [0.02,-0.52],[0.06,-0.38],[0.1,-0.58],[0.16,-0.49],[0.2,-0.32],[0.25,-0.56],[0.28,-0.37],[0.32,-0.52],[0.35,-0.33],[0.39,-0.58],[0.43,-0.47],[0.46,-0.31],[0.5,-0.54],[0.53,-0.38],[0.57,-0.5],[0.61,-0.33],[0.64,-0.57],[0.68,-0.4],[0.71,-0.52],[0.75,-0.33],[0.78,-0.58],[0.82,-0.44],[0.85,-0.52],[0.88,-0.34],[0.92,-0.57],[0.96,-0.4],[1.0,-0.51],[1.04,-0.37],[1.1,-0.53],[1.15,-0.46],[1.22,-0.33],[1.27,-0.47],[1.31,-0.4],
  [-0.05,0.65],[0.0,0.71],[0.05,0.78],[0.1,0.66],[0.14,0.87],[0.19,0.69],[0.23,0.75],[0.28,0.61],[0.33,0.79],[0.37,0.64],[0.44,0.76],[0.52,0.7],[0.58,0.62],[0.64,0.72],[0.77,0.63],[0.85,0.72]];
const posDense2 = [[0.02,0.5],[0.06,0.37],[0.1,0.5],[0.14,0.41],[0.18,0.56],[0.21,0.34],[0.25,0.46],[0.29,0.56],[0.32,0.34],[0.35,0.47],[0.39,0.41],[0.42,0.56],[0.45,0.43],[0.49,0.33],[0.53,0.51],[0.57,0.44],[0.61,0.55],[0.64,0.39],[0.68,0.49],[0.71,0.41],[0.75,0.47],[0.79,0.38],[0.83,0.58],[0.86,0.44],[0.9,0.35],[0.93,0.5],[0.97,0.37],[1.01,0.52],[1.06,0.47],[1.1,0.33],[1.16,0.51],[1.22,0.39],
  [-0.07,0.07],[-0.03,0.27],[0.02,0.08],[0.05,0.2],[0.09,0.07],[0.13,0.26],[0.16,0.14],[0.19,0.05],[0.23,0.17],[0.26,0.04],[0.3,0.19],[0.34,0.08],[0.37,0.27],[0.41,0.16],[0.45,0.07],[0.48,0.19],[0.52,0.03],[0.55,0.14],[0.58,0.24],[0.62,0.07],[0.66,0.2],[0.7,0.09],[0.73,0.26],[0.78,0.19],[0.82,0.03],[0.86,0.23],[0.9,0.12],[0.94,0.02],[0.97,0.25],[1.02,0.13],[1.07,0.26],[1.12,0.08],[1.18,0.22],[1.21,0.11],
  [0.02,-0.18],[0.07,-0.09],[0.11,-0.25],[0.14,-0.15],[0.18,-0.06],[0.22,-0.21],[0.26,-0.13],[0.29,-0.02],[0.33,-0.17],[0.37,-0.05],[0.41,-0.21],[0.45,-0.14],[0.49,-0.06],[0.53,-0.17],[0.57,-0.09],[0.61,-0.21],[0.65,-0.11],[0.69,-0.01],[0.73,-0.22],[0.77,-0.15],[0.81,-0.09],[0.85,-0.25],[0.89,-0.02],[0.93,-0.18],[0.96,-0.08],[1.02,-0.21],[1.07,-0.07],[1.11,-0.16],[1.16,-0.22],[1.2,-0.1],[1.25,-0.03],[1.29,-0.15],[1.36,-0.08],
  [0.04,-0.6],[0.08,-0.45],[0.13,-0.35],[0.18,-0.55],[0.22,-0.43],[0.26,-0.35],[0.3,-0.58],[0.34,-0.43],[0.37,-0.52],[0.41,-0.32],[0.45,-0.55],[0.48,-0.41],[0.52,-0.33],[0.55,-0.51],[0.59,-0.41],[0.62,-0.52],[0.66,-0.31],[0.7,-0.45],[0.73,-0.59],[0.77,-0.42],[0.8,-0.53],[0.83,-0.35],[0.87,-0.46],[0.91,-0.39],[0.94,-0.55],[0.98,-0.44],[1.03,-0.55],[1.07,-0.39],[1.13,-0.49],[1.18,-0.37],[1.25,-0.41]];
// red points sitting inside the blue cloud (drawn on top)
const posStray = [[-0.68,0.31],[-0.46,0.43],[-0.39,0.28],[-0.33,0.38],[-0.71,0.12],[-0.52,0.2],[-0.44,0.06],[-0.36,0.16],[-0.95,-0.2],[-0.62,-0.13],[-0.47,-0.05],[-0.4,-0.19],[-0.33,-0.1],[-0.98,-0.3],[-0.79,-0.44],[-0.58,-0.33],[-0.44,-0.45],[-0.37,-0.28],[-1.03,-0.64],[-0.9,-0.68],[-0.61,-0.56],[-0.42,-0.66],[-0.33,-0.53],[-0.8,-0.91],[-0.71,-0.9],[-0.66,-0.89],[-0.63,-0.84],[-0.45,-0.88],[-0.44,-0.81],[-0.67,-1.29],[-0.55,-1.27],[-0.38,-1.1],[-0.34,-1.07],[-0.3,-0.62],[-0.22,-0.45],[-0.15,-0.3],[-0.35,-0.2],[-0.12,-0.6],[-0.08,-0.15],[-0.28,0.05],[-0.5,0.15],[-0.6,0.35],[-0.38,0.22],[-0.2,0.4],[-0.1,-0.42],[-0.05,-0.8],[-0.25,-0.75],[-0.4,-0.55],[-0.55,-0.45],[-0.18,-0.05],[-0.02,-0.35],[0.05,-0.3],[0.12,-0.55],[0.2,-0.2],[0.28,-0.6],[0.35,-0.38],[0.15,-0.78],[0.08,-0.1]];
// points inside the right zoom box (shown enlarged in the right inset)
const insetPos = [[1.271,0.361],[1.381,0.419],[1.427,0.323],[1.327,0.232],[1.327,0.183],[1.35,0.191],[1.415,0.18],[1.42,0.132],[1.352,0.054],[1.381,0.059],[1.425,0.042],[1.433,0.025],[1.439,0.017],[1.462,0.076],[1.474,0.083],[1.491,0.059],[1.276,-0.032],[1.283,-0.032],[1.29,-0.051],[1.313,-0.014],[1.314,-0.024],[1.332,-0.034],[1.311,-0.07],[1.317,-0.065],[1.323,-0.095],[1.366,-0.127],[1.39,-0.092],[1.55,0.317],[1.601,0.278],[1.64,0.273],[1.702,0.29],[1.734,0.353],[1.773,0.384],[1.771,0.371],[1.769,0.226],[1.791,0.191],[1.795,0.18],[1.595,0.131],[1.64,0.099],[1.573,-0.03],[1.559,-0.07],[1.538,-0.083],[1.607,-0.009],[1.614,-0.032],[1.605,-0.097],[1.597,-0.119],[1.625,-0.089],[1.66,0.0],[1.653,-0.056],[1.681,0.013],[1.692,-0.009],[1.676,-0.042],[1.689,-0.11],[1.72,-0.091],[1.746,-0.076],[1.766,-0.032]];
const insetPosWords = { 0: 'luck', 2: 'fans', 3: 'votes', 4: 'vote', 9: ';)', 14: ':-)', 30: 'welcome', 32: 'congratulations', 37: 'greetings', 54: 'best', 55: 'better' };

// ---- styling ----
const POS = 'rgb(238,14,14)';
const NEG = 'rgb(14,14,238)';
const INK = '#222';
const FONT = '"Liberation Sans", Arial, sans-serif';
Chart.defaults.font.family = FONT;

const LEGEND_BOX = { x: 754, y: 551, w: 194, h: 62 };
// word label offsets from their point, in px: [dx, dy, align]
const WORD_OFFSETS = {
  crashed: [0, 13, 'center'], crashing: [9, -4, 'left'], issues: [-2, 12, 'center'],
  fails: [-3, 20, 'center'], problems: [13, 11, 'center'], unable: [1, 11, 'center'],
  luck: [7, -3, 'left'], fans: [1, 11, 'center'], votes: [-17, -13, 'center'],
  vote: [-23, -1, 'center'], greetings: [-29, -16, 'center'], ';)': [1, 14, 'center'],
  ':-)': [0, 24, 'center'], congratulations: [-62, -6, 'center'], welcome: [4, 10, 'center'],
  better: [-4, -18, 'center'], best: [13, 11, 'center']
};

const toXY = pts => pts.map(([x, y]) => ({ x, y }));
// keep the digits centred on the tick when the label carries a "- " prefix
const centreDigits = s => s.startsWith('- ') ? s + '  ' : s;

const posAll = [].concat(posTop, posUpper, posUpper2, posMidHigh, posMid, posCenter, posMidLow, posLow, posLower, posBottom, posBase, posDense, posDense2, insetPos);
const negAll = [].concat(negTop, negUpper, negMidHigh, negMid, negCenter, negMidLow, negLow, negLower, negBottom, negBase, negMixed, negDense, negDense2, negLeft2, negStray, insetNeg);

const mainDecor = {
  id: 'mainDecor',
  afterDraw(chart) {
    const { ctx, scales: { x, y } } = chart;
    const left = chart.chartArea.left;
    ctx.save();
    ctx.strokeStyle = INK;
    ctx.lineWidth = 2;

    // inward tick marks on the y axis
    y.ticks.forEach(t => {
      const py = Math.round(y.getPixelForValue(t.value));
      ctx.beginPath();
      ctx.moveTo(left, py);
      ctx.lineTo(left + 10, py);
      ctx.stroke();
    });

    // zoom boxes and the lines joining them to their insets
    [[zoomNeg, 'insetNeg'], [zoomPos, 'insetPos']].forEach(([z, id]) => {
      const x0 = x.getPixelForValue(z.xMin), x1 = x.getPixelForValue(z.xMax);
      const y0 = y.getPixelForValue(z.yMax), y1 = y.getPixelForValue(z.yMin);
      ctx.strokeRect(x0, y0, x1 - x0, y1 - y0);
      const c = document.getElementById(id);
      const bx0 = c.offsetLeft, bx1 = c.offsetLeft + c.width, by = c.offsetTop + c.height;
      ctx.beginPath();
      ctx.moveTo(bx0, by); ctx.lineTo(x0, y0);
      ctx.moveTo(bx1, by); ctx.lineTo(x1, y0);
      ctx.stroke();
    });

    // legend box
    const b = LEGEND_BOX;
    ctx.fillStyle = '#fff';
    ctx.fillRect(b.x, b.y, b.w, b.h);
    ctx.strokeRect(b.x, b.y, b.w, b.h);
    ctx.font = '22px ' + FONT;
    ctx.textAlign = 'center';
    ctx.textBaseline = 'middle';
    chart.data.datasets.slice(0, 2).forEach((ds, i) => {
      const cy = b.y + 16 + i * 27;
      ctx.fillStyle = ds.backgroundColor;
      ctx.beginPath();
      ctx.arc(b.x + 24, cy, 5.5, 0, Math.PI * 2);
      ctx.fill();
      ctx.fillStyle = INK;
      ctx.fillText(ds.label, b.x + 108, cy);
    });
    ctx.restore();
  }
};

new Chart(document.getElementById('main'), {
  type: 'scatter',
  data: {
    datasets: [
      { label: 'Positives', data: toXY(posAll), backgroundColor: POS, pointRadius: 3, borderWidth: 0 },
      { label: 'Negatives', data: toXY(negAll), backgroundColor: NEG, pointRadius: 3, borderWidth: 0 },
      { label: 'Positives', data: toXY(posStray), backgroundColor: POS, pointRadius: 3, borderWidth: 0 }
    ]
  },
  options: {
    responsive: false, animation: false, devicePixelRatio: 1,
    layout: { padding: { top: 65, right: 10, left: 0, bottom: 0 } },
    plugins: { legend: { display: false }, tooltip: { enabled: false } },
    scales: {
      x: {
        type: 'linear', min: -2, max: 2,
        grid: { display: false, drawTicks: false },
        border: { display: true, color: INK, width: 2 },
        ticks: {
          stepSize: 0.5, autoSkip: false, maxRotation: 0, padding: 6,
          color: INK, font: { size: 20 },
          callback: (v, i) => centreDigits(xTickLabels[i])
        },
        afterFit: s => { s.height = 24; }
      },
      y: {
        type: 'linear', min: -1.5, max: 2.5,
        grid: { display: false, drawTicks: false },
        border: { display: true, color: INK, width: 2 },
        ticks: {
          stepSize: 0.5, autoSkip: false, padding: 16,
          color: INK, font: { size: 20 },
          callback: (v, i) => yTickLabels[i]
        },
        afterFit: s => { s.width = 48; }
      }
    }
  },
  plugins: [mainDecor]
});

const insetDecor = {
  id: 'insetDecor',
  afterDraw(chart, args, opts) {
    const { ctx, width, height } = chart;
    const pts = chart.getDatasetMeta(0).data;
    ctx.save();
    ctx.font = '15px ' + FONT;
    ctx.fillStyle = '#333';
    ctx.textBaseline = 'middle';
    Object.entries(opts.words).forEach(([i, word]) => {
      const p = pts[i];
      const [dx, dy, align] = WORD_OFFSETS[word];
      ctx.textAlign = align;
      ctx.fillText(word, p.x + dx, p.y + dy);
    });
    ctx.strokeStyle = INK;
    ctx.lineWidth = 2;
    ctx.strokeRect(1, 1, width - 2, height - 2);
    ctx.restore();
  }
};

function inset(id, pts, words, zoom, color) {
  new Chart(document.getElementById(id), {
    type: 'scatter',
    data: { datasets: [{ data: toXY(pts), backgroundColor: color, pointRadius: 4.6, borderWidth: 0 }] },
    options: {
      responsive: false, animation: false, devicePixelRatio: 1,
      layout: { padding: 0 },
      plugins: { legend: { display: false }, tooltip: { enabled: false }, insetDecor: { words } },
      scales: {
        x: { type: 'linear', display: false, min: zoom.xMin, max: zoom.xMax },
        y: { type: 'linear', display: false, min: zoom.yMin, max: zoom.yMax }
      }
    },
    plugins: [insetDecor]
  });
}

inset('insetNeg', insetNeg, insetNegWords, zoomNeg, NEG);
inset('insetPos', insetPos, insetPosWords, zoomPos, POS);
</script>
</body>
</html>
